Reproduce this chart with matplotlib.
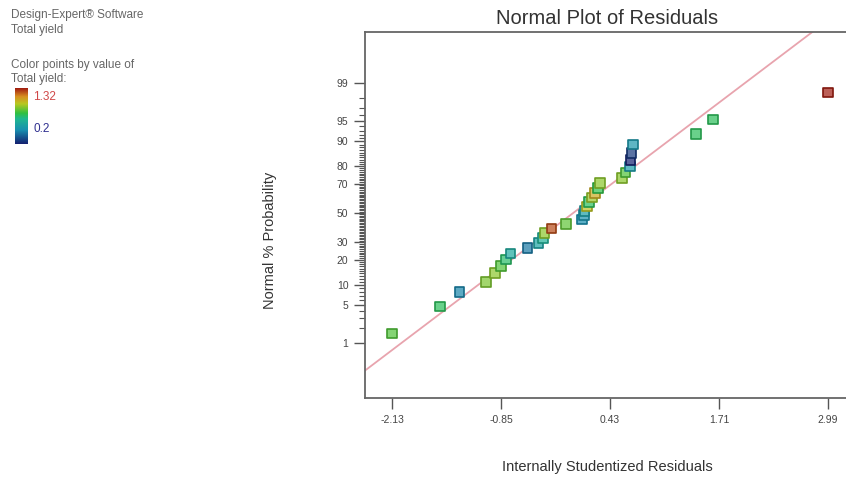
import matplotlib
matplotlib.use("Agg")
import matplotlib.pyplot as plt
import numpy as np
from matplotlib.colors import LinearSegmentedColormap, to_rgb
from statistics import NormalDist

plt.rcParams['font.family'] = ['Liberation Sans', 'DejaVu Sans']

# ---- data ----
residuals = [-2.13, -1.57, -1.34, -1.03, -0.92, -0.85, -0.79, -0.74, -0.54, -0.41,
             -0.36, -0.34, -0.26, -0.09, 0.10, 0.12, 0.13, 0.16, 0.18, 0.22,
             0.25, 0.29, 0.31, 0.57, 0.61, 0.66, 0.67, 0.68, 0.70, 1.44,
             1.64, 2.99]
prob_pct = [1.56, 4.69, 7.81, 10.94, 14.06, 17.19, 20.31, 23.44, 26.56, 29.69,
            32.81, 35.94, 39.06, 42.19, 45.31, 48.44, 51.56, 54.69, 57.81, 60.94,
            64.06, 67.19, 70.31, 73.44, 76.56, 79.69, 82.81, 85.94, 89.06, 92.19,
            95.31, 98.44]
total_yield = [0.86, 0.78, 0.45, 0.92, 0.94, 0.86, 0.76, 0.62, 0.42, 0.58,
               0.66, 0.94, 1.25, 0.88, 0.48, 0.50, 0.56, 1.02, 0.78, 0.96,
               1.08, 0.80, 0.94, 0.94, 0.86, 0.54, 0.20, 0.26, 0.52, 0.78,
               0.78, 1.32]
x_ticks = [-2.13, -0.85, 0.43, 1.71, 2.99]
x_tick_labels = ["-2.13", "-0.85", "0.43", "1.71", "2.99"]
y_major_pct = [1, 5, 10, 20, 30, 50, 70, 80, 90, 95, 99]
y_minor_pct = list(range(1, 100))
yield_min, yield_max = 0.2, 1.32

nd = NormalDist()
z = [nd.inv_cdf(p / 100.0) for p in prob_pct]

cmap = LinearSegmentedColormap.from_list(
    "de", [(0.0, "#142070"), (0.25, "#1890b0"), (0.45, "#20b890"),
           (0.55, "#30c040"), (0.72, "#b8c820"), (0.85, "#d89020"), (1.0, "#a01c10")])

fig = plt.figure(figsize=(8.46, 4.80), dpi=100)
ax = fig.add_axes([365/846, 1 - 398/480, 1 - 365/846 + 0.01, (398 - 32)/480])

# reference line through the quartiles
q1, q3 = np.percentile(residuals, [25, 75])
zq1, zq3 = nd.inv_cdf(0.25), nd.inv_cdf(0.75)
slope = (zq3 - zq1) / (q3 - q1)
xm = (q1 + q3) / 2
xl = np.array([-3.0, 4.0])
ax.plot(xl, slope * (xl - xm), color="#e8a4ae", lw=1.3, zorder=1)

norm = plt.Normalize(yield_min, yield_max)
cols = [cmap(norm(v)) for v in total_yield]
face = [tuple(0.3 + 0.7 * np.array(to_rgb(c))) for c in cols]
edge = [tuple(0.8 * np.array(to_rgb(c))) for c in cols]
ax.scatter(residuals, z, marker='s', s=48, facecolors=face, edgecolors=edge,
           linewidths=1.2, zorder=3)

ax.set_xlim(-2.45, 3.30)
ax.set_ylim(-3.31, 3.24)

ax.set_xticks(x_ticks)
ax.set_xticklabels(x_tick_labels, fontsize=7.5, color="#444444")
ax.set_yticks([nd.inv_cdf(p / 100) for p in y_major_pct])
ax.set_yticklabels([str(p) for p in y_major_pct], fontsize=7.5, color="#444444")
ax.set_yticks([nd.inv_cdf(p / 100) for p in y_minor_pct], minor=True)
ax.tick_params(axis='both', which='major', direction='out', length=8, width=1.0,
               color="#555555", pad=4)
ax.tick_params(axis='y', which='minor', direction='out', length=4, width=0.8,
               color="#555555")
for s in ['left', 'bottom', 'top']:
    ax.spines[s].set_color("#666666")
    ax.spines[s].set_linewidth(1.3)
ax.spines['right'].set_visible(False)

fig.text(607/846, 1 - 18/480, "Normal Plot of Residuals", ha='center', va='center',
         fontsize=14.5, color="#333333")
fig.text(607/846, 1 - 467/480, "Internally Studentized Residuals", ha='center',
         va='center', fontsize=10.5, color="#333333")
fig.text(270/846, 1 - 240/480, "Normal % Probability", ha='center', va='center',
         rotation=90, fontsize=10.5, color="#333333")

# left information panel
tc = "#666666"
fs = 8.5
fig.text(11/846, 1 - 15/480, "Design-Expert® Software", fontsize=fs, color=tc, va='center')
fig.text(11/846, 1 - 30/480, "Total yield", fontsize=fs, color=tc, va='center')
fig.text(11/846, 1 - 65/480, "Color points by value of", fontsize=fs, color=tc, va='center')
fig.text(11/846, 1 - 79/480, "Total yield:", fontsize=fs, color=tc, va='center')
cax = fig.add_axes([15/846, 1 - 144/480, 12/846, 56/480])
grad = np.linspace(yield_min, yield_max, 200).reshape(-1, 1)
cax.imshow(grad, aspect='auto', cmap=cmap, norm=norm, origin='lower',
           extent=[0, 1, yield_min, yield_max])
cax.axis('off')
fig.text(33/846, 1 - 97/480, f"{yield_max:.2f}", fontsize=fs, color="#d04848", va='center')
fig.text(33/846, 1 - 129/480, f"{yield_min:.1f}", fontsize=fs, color="#303090", va='center')

fig.savefig("out.png", dpi=100)
